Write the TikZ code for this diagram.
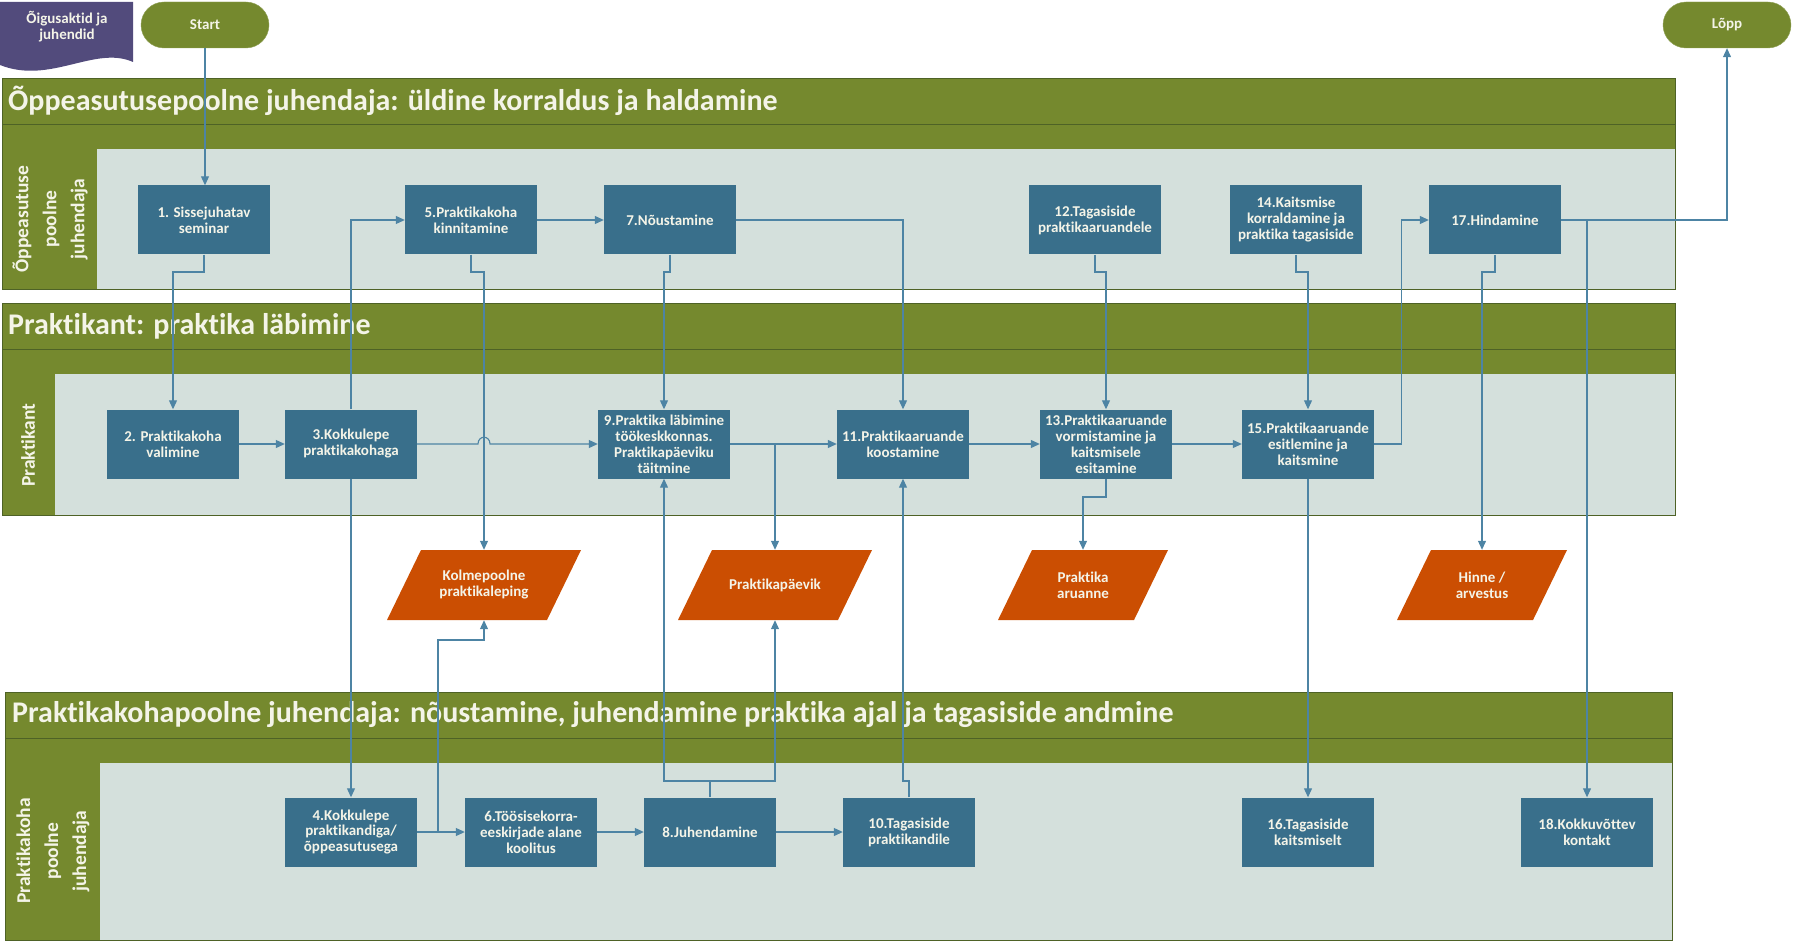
\documentclass[tikz,border=0pt]{standalone}
\usepackage{fontspec}
\setmainfont{Carlito}[Ligatures=CommonOff]
\usetikzlibrary{positioning}
\usetikzlibrary{calc}
\usetikzlibrary{arrows.meta}
\usetikzlibrary{shapes.geometric, shapes.misc}

\definecolor{lanegreen}{HTML}{75892E}
\definecolor{laneedge}{HTML}{4E6226}
\definecolor{lanebg}{HTML}{D4E0DC}
\definecolor{boxblue}{HTML}{396F8B}
\definecolor{dataorange}{HTML}{CB4E02}
\definecolor{docpurple}{HTML}{524B7C}
\definecolor{linkblue}{HTML}{4D84A4}
\definecolor{paper}{HTML}{F4F4E8}

\begin{document}
\begin{tikzpicture} [
    x=1pt, y=-1pt,                  % one unit is one pixel of the sheet, y runs down
    ]
% -------------------------------------------------
\tikzset{
  base/.style={align=center, text=paper, inner sep=2pt},
  proc/.style={base, rectangle, fill=boxblue, minimum width=132pt, minimum height=69pt, font=\bfseries\fontsize{15}{16}\selectfont},
  data/.style={base, rectangle, minimum width=#1, minimum height=70pt, font=\bfseries\fontsize{15}{16}\selectfont,
               path picture={\fill[dataorange] (path picture bounding box.south west) -- ++({#1-34},0)
                 -- (path picture bounding box.north east) -- ++({34-#1},0) -- cycle;}},
  data/.default=194,
  term/.style={base, rounded rectangle, fill=lanegreen, draw=lanegreen!80!white, minimum width=132pt, minimum height=46pt, font=\bfseries\fontsize{15}{16}\selectfont},
  title/.style={anchor=west, text=paper, inner sep=0pt, font=\bfseries\fontsize{30}{34}\selectfont},
  side/.style={align=center, text=paper, rotate=90, inner sep=0pt, font=\bfseries\fontsize{19.5}{28}\selectfont},
  line/.style={draw=linkblue, line width=1.1pt, -{Triangle[length=9pt,width=8pt]}},
  wire/.style={draw=linkblue, line width=1.1pt}
}

\useasboundingbox (0,0) rectangle (1793,941);

    \fill[lanegreen] (2,78) rectangle (1675,149);            % lane 1: title bands
    \fill[lanegreen] (2,149) rectangle (97,289);             % lane 1: label column
    \fill[lanebg] (97,149) rectangle (1675,289);             % lane 1: work area
    \draw[laneedge, thick] (2,124) -- (1675,124);            % lane 1: band divider
    \draw[laneedge, thick] (2,78) rectangle (1675,289);      % lane 1: outline

    \fill[lanegreen] (2,303) rectangle (1675,374);           % lane 2: title bands
    \fill[lanegreen] (2,374) rectangle (55,515);             % lane 2: label column
    \fill[lanebg] (55,374) rectangle (1675,515);             % lane 2: work area
    \draw[laneedge, thick] (2,349) -- (1675,349);            % lane 2: band divider
    \draw[laneedge, thick] (2,303) rectangle (1675,515);     % lane 2: outline

    \fill[lanegreen] (5,692) rectangle (1672,763);           % lane 3: title bands
    \fill[lanegreen] (5,763) rectangle (100,940);            % lane 3: label column
    \fill[lanebg] (100,763) rectangle (1672,940);            % lane 3: work area
    \draw[laneedge, thick] (5,738) -- (1672,738);            % lane 3: band divider
    \draw[laneedge, thick] (5,692) rectangle (1672,940);     % lane 3: outline

    \node [title] (t1) at (8,101) {Õppeasutusepoolne juhendaja: üldine korraldus ja haldamine};
    \node [title] (t2) at (8,326) {Praktikant: praktika läbimine};
    \node [title] (t3) at (12,715) {Praktikakohapoolne juhendaja: nõustamine, juhendamine praktika ajal ja tagasiside andmine};

    \node [side] (s1) at (50,219) {Õppeasutuse\\poolne\\juhendaja};
    \node [side] (s2) at (28,445) {Praktikant};
    \node [side] (s3) at (53,851) {Praktikakoha\\poolne\\juhendaja};

    \fill[docpurple] (0,2) -- (133,2) -- (133,62) .. controls (95,45) and (50,85) .. (0,65) -- cycle;  % legal acts document
    \node [base, font=\bfseries\fontsize{15}{16}\selectfont] (doc) at (67,27) {Õigusaktid ja\\juhendid};

    \node [term] (start) at (205,25) {Start};
    \node [term] (lopp) at (1727,25) {Lõpp};

    \node [proc] (k1) at (204,220) {1. Sissejuhatav\\seminar};
    \node [proc] (k5) at (471,220) {5.Praktikakoha\\kinnitamine};
    \node [proc] (k7) at (670,220) {7.Nõustamine};
    \node [proc] (k12) at (1095,220) {12.Tagasiside\\praktikaaruandele};
    \node [proc] (k14) at (1296,220) {14.Kaitsmise\\korraldamine ja\\praktika tagasiside};
    \node [proc] (k17) at (1495,220) {17.Hindamine};

    \node [proc] (k2) at (173,444) {2. Praktikakoha\\valimine};
    \node [proc] (k3) at (351,444) {3.Kokkulepe\\praktikakohaga};
    \node [proc] (k9) at (664,444) {9.Praktika läbimine\\töökeskkonnas.\\Praktikapäeviku\\täitmine};
    \node [proc] (k11) at (903,444) {11.Praktikaaruande\\koostamine};
    \node [proc] (k13) at (1106,444) {13.Praktikaaruande\\vormistamine ja\\kaitsmisele\\esitamine};
    \node [proc] (k15) at (1308,444) {15.Praktikaaruande\\esitlemine ja\\kaitsmine};

    \node [data] (kolm) at (484,585) {Kolmepoolne\\praktikaleping};
    \node [data] (paevik) at (775,585) {Praktikapäevik};
    \node [data=170] (aruanne) at (1083,585) {Praktika\\aruanne};
    \node [data=170] (hinne) at (1482,585) {Hinne /\\arvestus};

    \node [proc] (k4) at (351,832) {4.Kokkulepe\\praktikandiga/\\õppeasutusega};
    \node [proc] (k6) at (531,832) {6.Töösisekorra-\\eeskirjade alane\\koolitus};
    \node [proc] (k8) at (710,832) {8.Juhendamine};
    \node [proc] (k10) at (909,832) {10.Tagasiside\\praktikandile};
    \node [proc] (k16) at (1308,832) {16.Tagasiside\\kaitsmiselt};
    \node [proc] (k18) at (1587,832) {18.Kokkuvõttev\\kontakt};

    \coordinate (j1) at (0,272);     % jog under lane 1 boxes
    \coordinate (j2) at (0,497);     % jog under box 13
    \coordinate (j3) at (438,640);   % branch from 4 to the agreement
    \coordinate (j4) at (0,781);     % jog above lane 3 boxes
    \coordinate (hop) at (484,444);  % crossing on the 3-9 line

    \path [line] (start.south) -- (start.south |- k1.north);
    \path [line] (k1.south) -- (k1.south |- j1) -| (k2.north);
    \path [line] (k2) -- (k3);
    \path [line] (k3.east) -- ([xshift=-6pt]hop) .. controls +(0,-9) and +(0,-9) .. ([xshift=6pt]hop) -- (k9.west);
    \path [line] (k3.north) |- (k5.west);
    \path [line] (k3.south) -- (k4.north);

    \path [line] (k5) -- (k7);
    \path [line] (k5.south) -- (k5.south |- j1) -| (kolm.north);
    \path [line] (k7.east) -| (k11.north);
    \path [line] (k7.south) -- (k7.south |- j1) -| (k9.north);

    \path [line] (k9) -- (k11);
    \path [line] (k9.east -| paevik.north) -- (paevik.north);
    \path [line] (k11) -- (k13);
    \path [line] (k12.south) -- (k12.south |- j1) -| (k13.north);
    \path [line] (k13.south) -- (k13.south |- j2) -| (aruanne.north);
    \path [line] (k13) -- (k15);

    \path [line] (k14.south) -- (k14.south |- j1) -| (k15.north);
    \path [line] (k15.east) -- ++(27,0) |- (k17.west);
    \path [line] (k15.south) -- (k16.north);
    \path [line] (k17.east) -| (lopp.south);
    \path [line] (k17.east -| k18.north) -- (k18.north);
    \path [line] (k17.south) -- (k17.south |- j1) -| (hinne.north);

    \path [line] (k4) -- (k6);
    \path [line] (k4.east -| j3) -- (j3) -| (kolm.south);
    \path [line] (k6) -- (k8);
    \path [line] (k8) -- (k10);
    \path [line] (k8.north) -- (k8.north |- j4) -| (k9.south);
    \path [line] (k8.north |- j4) -| (paevik.south);
    \path [line] (k10.north) -- (k10.north |- j4) -| (k11.south);

\end{tikzpicture}
\end{document}
